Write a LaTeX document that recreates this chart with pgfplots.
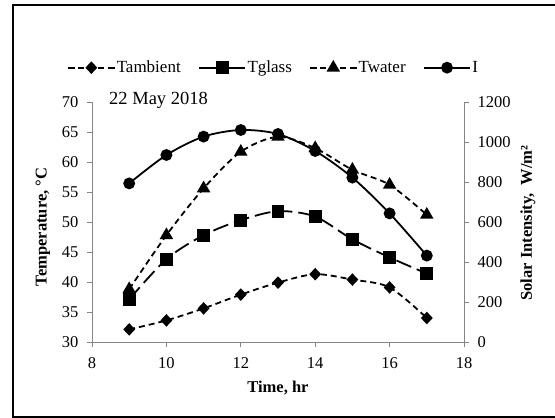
\documentclass[border=0pt]{standalone}
\usepackage{pgfplots}
\pgfplotsset{compat=1.18}
\usepackage{fontspec}
\setmainfont{Liberation Serif}
\definecolor{axgray}{HTML}{868686}
\begin{document}
\begin{tikzpicture}[x=1pt,y=1pt,font=\fontsize{16.5}{19}\selectfont]
\useasboundingbox (0,0) rectangle (555,418);
\begin{scope}
\clip (0,0) rectangle (555,418);
\draw[line width=1.3pt] (13,1) rectangle (640,413);
\end{scope}
\pgfplotsset{
  base/.style={
    at={(92pt,76pt)}, anchor=south west,
    scale only axis, width=372pt, height=240pt,
    xmin=8, xmax=18, clip=false,
    /pgf/number format/assume math mode=true,
    /pgf/number format/1000 sep={},
    tick align=outside, major tick length=5pt,
    tick style={axgray, line width=0.8pt},
    x axis line style={axgray, line width=0.8pt, -},
    y axis line style={axgray, line width=0.8pt, -},
    legend image code/.code={\draw[mark repeat=2,mark phase=2,##1] plot coordinates {(0pt,0pt) (23pt,0pt) (46pt,0pt)};},
  },
  ser/.style={black, line width=1.8pt, smooth, tension=0.5},
}
\begin{axis}[base,
  ymin=30, ymax=70,
  xtick={8,10,...,18}, ytick={30,35,...,70},
  axis x line*=bottom, axis y line*=left,
  yticklabel style={xshift=-5pt},
  xticklabel style={yshift=-7pt},
  xlabel={\bfseries Time, hr},
  ylabel={\bfseries Temperature, °C},
  xlabel style={at={(axis description cs:0.5,-0.1935)}, anchor=center},
  ylabel style={at={(axis description cs:-0.1317,0.479)}, anchor=center, rotate=0},
  legend columns=4,
  legend style={draw=none, fill=none, at={(axis description cs:0.488,1.143)}, anchor=center,
    font=\fontsize{17}{19}\selectfont,
    nodes={inner xsep=1.5pt},
    /tikz/every even column/.append style={column sep=16pt}},
]
\addplot[ser, dash pattern=on 6pt off 4pt, mark=diamond*, mark size=5pt, mark options={solid, xscale=1.25}]
 coordinates {(9,32.1) (10,33.6) (11,35.6) (12,37.9) (13,39.9) (14,41.3) (15,40.4) (16,39.1) (17,34.0)};
\addlegendentry{Tambient}
\addplot[ser, dash pattern=on 16pt off 6pt, mark=square*, mark size=5.5pt, mark options={solid}, legend image post style={solid}]
 coordinates {(9,37.1) (10,43.8) (11,47.8) (12,50.3) (13,51.8) (14,50.9) (15,47.1) (16,44.1) (17,41.4)};
\addlegendentry{Tglass}
\addplot[ser, dash pattern=on 6pt off 4pt, mark=triangle*, mark size=6pt, mark options={solid}]
 coordinates {(9,38.8) (10,47.8) (11,55.6) (12,61.7) (13,64.2) (14,62.3) (15,58.7) (16,56.2) (17,51.2)};
\addlegendentry{Twater}
\addlegendimage{ser, solid, mark=*, mark size=5pt}
\addlegendentry{I}
\node[anchor=west, inner sep=0pt, font=\fontsize{18.5}{20}\selectfont] at (axis cs:8.457,70.2) {22 May 2018};
\end{axis}
\begin{axis}[base,
  ymin=0, ymax=1200, ytick={0,200,...,1200},
  axis y line*=right, axis x line=none,
  yticklabel style={xshift=5pt},
  ylabel={\bfseries Solar Intensity,\ \ W/m²},
  ylabel style={at={(axis description cs:1.172,0.496)}, anchor=center, rotate=0},
]
\addplot[ser, solid, mark=*, mark size=5pt]
 coordinates {(9,793) (10,935) (11,1027) (12,1060) (13,1040) (14,955) (15,822) (16,643) (17,432)};
\end{axis}
\end{tikzpicture}
\end{document}
